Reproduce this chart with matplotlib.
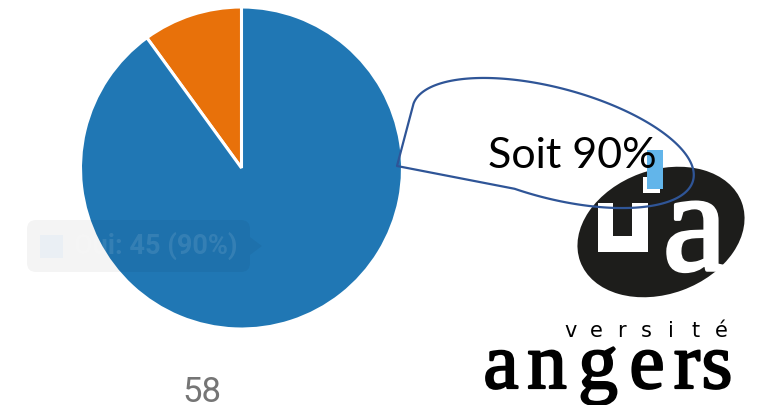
import numpy as np
import matplotlib
matplotlib.use('Agg')
import matplotlib.pyplot as plt
import matplotlib.patheffects as pe
from matplotlib.patches import Ellipse, Polygon, Rectangle, FancyBboxPatch

# ── Data ─────────────────────────────────────────────────────
LABELS   = ['Non', 'Oui']
COUNTS   = [5, 45]
COLORS   = ['#e8710a', '#2077b4']
TOTAL    = 58
CALLOUT  = 'Soit 90%'
TOOLTIP  = 'Oui: 45 (90%)'

W, H = 757, 405


def Y(y):
    """image row (top-down) -> data y (bottom-up)"""
    return H - y


def main():
    fig = plt.figure(figsize=(W / 100, H / 100), dpi=100)
    ax = fig.add_axes([0, 0, 1, 1])

    # ── Pie ──────────────────────────────────────────────────
    ax.pie(COUNTS, colors=COLORS, startangle=90, counterclock=True,
           center=(241.5, Y(168)), radius=161,
           wedgeprops=dict(edgecolor='white', linewidth=2.2))
    ax.set_xlim(0, W)
    ax.set_ylim(0, H)
    ax.set_aspect('equal')
    ax.axis('off')

    # faded hover tooltip
    ax.add_patch(FancyBboxPatch((27, Y(272)), 223, 52,
                                boxstyle='round,pad=0,rounding_size=9',
                                fc='black', ec='none', alpha=0.045, zorder=3))
    ax.add_patch(Polygon([(250, Y(237)), (262, Y(246)), (250, Y(255))],
                         closed=True, fc='black', ec='none', alpha=0.045, zorder=3))
    ax.add_patch(Rectangle((40, Y(258)), 23, 23, fc='#eaeff4', ec='none', zorder=3))
    ax.text(237, Y(246), TOOLTIP, ha='right', va='center', fontsize=19.5,
            fontweight='bold', family='Roboto', color='white', alpha=0.1, zorder=4)

    ax.text(201.5, Y(402), str(TOTAL), ha='center', va='baseline', fontsize=25,
            family='Roboto', color='#757575')

    # ── Logo ─────────────────────────────────────────────────
    ax.add_patch(Ellipse((661, Y(232)), 172, 124, angle=20,
                         fc='#1d1d1b', ec='none', zorder=5))
    u_shape = [(598, 203), (613, 203), (613, 236), (632, 236), (632, 203),
               (648, 203), (648, 252), (598, 252)]
    ax.add_patch(Polygon([(x, Y(y)) for x, y in u_shape], closed=True,
                         fc='white', ec='none', zorder=6))
    ax.add_patch(Rectangle((643, Y(193)), 17, 16, fc='white', ec='none', zorder=6))
    ax.add_patch(Rectangle((647, Y(189)), 16, 39, fc='#62b5ea', ec='none', zorder=7))
    ax.text(695, Y(270), 'a', ha='center', va='baseline', fontsize=104,
            family='Liberation Serif', color='white', zorder=6,
            path_effects=[pe.withStroke(linewidth=2.5, foreground='white')])

    for cx, ch in zip(np.linspace(571, 721, 7), 'versité'):
        ax.text(cx, Y(337), ch, ha='center', va='baseline', fontsize=15,
                family='DejaVu Sans', color='black')
    for cx, ch in zip([501, 547, 598, 647, 687, 717], 'angers'):
        ax.text(cx, Y(388), ch, ha='center', va='baseline', fontsize=57,
                family='Liberation Serif', color='black',
                path_effects=[pe.withStroke(linewidth=1.6, foreground='black')])

    # ── Callout ──────────────────────────────────────────────
    cx, cy, a, b = 553, Y(143), 145, 55
    th = np.radians(-15)
    t = np.linspace(np.radians(178), np.radians(-100), 300)
    ex = cx + a * np.cos(t) * np.cos(th) - b * np.sin(t) * np.sin(th)
    ey = cy + a * np.cos(t) * np.sin(th) + b * np.sin(t) * np.cos(th)
    pts = np.vstack([[397, Y(166)], np.column_stack([ex, ey])])
    ax.add_patch(Polygon(pts, closed=True, fill=False, ec='#2f5597',
                         lw=1.6, joinstyle='round', zorder=8))
    ax.text(488, Y(168), CALLOUT, ha='left', va='baseline', fontsize=31,
            family='Lato', color='black', zorder=9)

    fig.savefig('out.png', dpi=100)
    plt.close(fig)


if __name__ == '__main__':
    main()
